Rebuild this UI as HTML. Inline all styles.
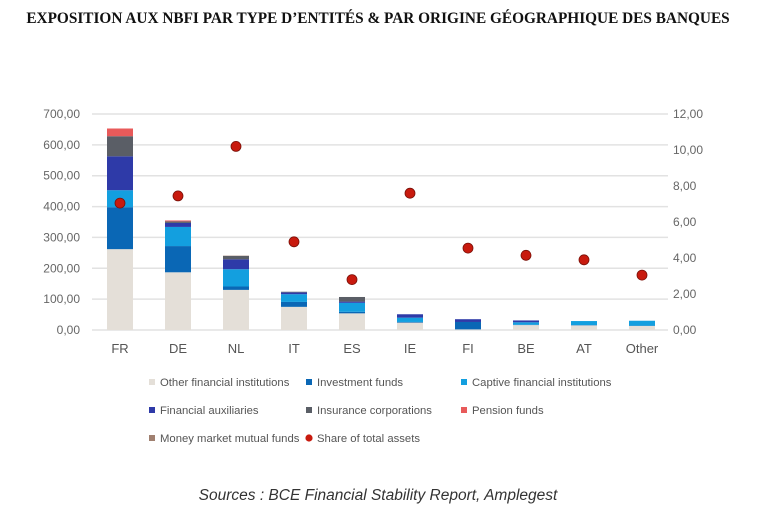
<!DOCTYPE html>
<html><head><meta charset="utf-8"><style>
body{margin:0;width:776px;height:525px;background:#fff;overflow:hidden;font-family:"Liberation Sans",sans-serif}
.title{position:absolute;top:10px;left:0;width:756px;text-align:center;font-family:"Liberation Serif",serif;font-weight:bold;font-size:15.3px;color:#111;white-space:nowrap}
.src{position:absolute;top:487px;left:0;width:756px;text-align:center;font-style:italic;font-size:15.5px;color:#333}
</style></head><body>
<div class="title">EXPOSITION AUX NBFI PAR TYPE D’ENTITÉS &amp; PAR ORIGINE GÉOGRAPHIQUE DES BANQUES</div>
<svg id="c" width="776" height="525" style="position:absolute;left:0;top:0"></svg>
<div class="src">Sources : BCE Financial Stability Report, Amplegest</div>
<script>
const categories=["FR","DE","NL","IT","ES","IE","FI","BE","AT","Other"];
const seriesNames=["Other financial institutions","Investment funds","Captive financial institutions","Financial auxiliaries","Insurance corporations","Pension funds","Money market mutual funds"];
const otherFI=[262,187,130,75,54,24,2,16,15,13];
const investFunds=[136,85,11,16,5,2,24,1,1,1];
const captive=[55,62,56,25,29,14,0,8,13,16];
const finAux=[110,13,32,6,4,11,9,6,0,0];
const insurance=[65,5,11,2,15,0,0,0,0,0];
const pension=[25,3,0,0,0,0,0,0,0,0];
const mmf=[0,0,1,0,0,0,0,0,0,0];
const share=[7.05,7.45,10.2,4.9,2.8,7.6,4.55,4.15,3.9,3.05];
const leftTicks=["0,00","100,00","200,00","300,00","400,00","500,00","600,00","700,00"];
const rightTicks=["0,00","2,00","4,00","6,00","8,00","10,00","12,00"];
const colors=["#e4dfd8","#0a67b5","#139fdf","#2e3aa8","#5a5e66","#e85a5a","#a08070"];
const series=[otherFI,investFunds,captive,finAux,insurance,pension,mmf];
const NS="http://www.w3.org/2000/svg",svg=document.getElementById('c');
function mk(t,a,p){const e=document.createElementNS(NS,t);for(const k in a)e.setAttribute(k,a[k]);(p||svg).appendChild(e);return e;}
const y0=330,yL=v=>y0-v*(216/700),yR=v=>y0-v*(216/12),xC=i=>120+i*58,bw=26;
leftTicks.forEach((t,i)=>{const y=yL(i*100);
const g=mk('line',{x1:92,x2:668,y1:y,y2:y,stroke:'#e2e2e2','stroke-width':1.5});


const l=mk('text',{x:80,y:y+4,'text-anchor':'end','font-size':12,fill:'#666'});l.textContent=t;

});
rightTicks.forEach((t,i)=>{const l=mk('text',{x:673,y:yR(i*2)+4,'font-size':12,fill:'#666'});l.textContent=t;

});
categories.forEach((c,i)=>{let acc=0;
series.forEach((s,k)=>{const v=s[i];if(v<=0)return;const r=mk('rect',{x:xC(i)-bw/2,y:yL(acc+v),width:bw,height:yL(acc)-yL(acc+v),fill:colors[k]});acc+=v;

});
const l=mk('text',{x:xC(i),y:353,'text-anchor':'middle','font-size':13,fill:'#555'});l.textContent=c;


const d=mk('circle',{cx:xC(i),cy:yR(share[i]),r:5,fill:'#c81a0e',stroke:'#7a1008','stroke-width':0.8});

});
const leg=[[152,382],[309,382],[464,382],[152,410],[309,410],[464,410],[152,438],[309,438]];
seriesNames.concat(["Share of total assets"]).forEach((n,i)=>{const [x,y]=leg[i];
const m=i<7?mk('rect',{x:x-3,y:y-3,width:6,height:6,fill:colors[i]}):mk('circle',{cx:x,cy:y,r:3.6,fill:'#c81a0e'});


const t=mk('text',{x:x+8,y:y+4,'font-size':11.3,fill:'#555'});t.textContent=n;

});
</script>
</body></html>
